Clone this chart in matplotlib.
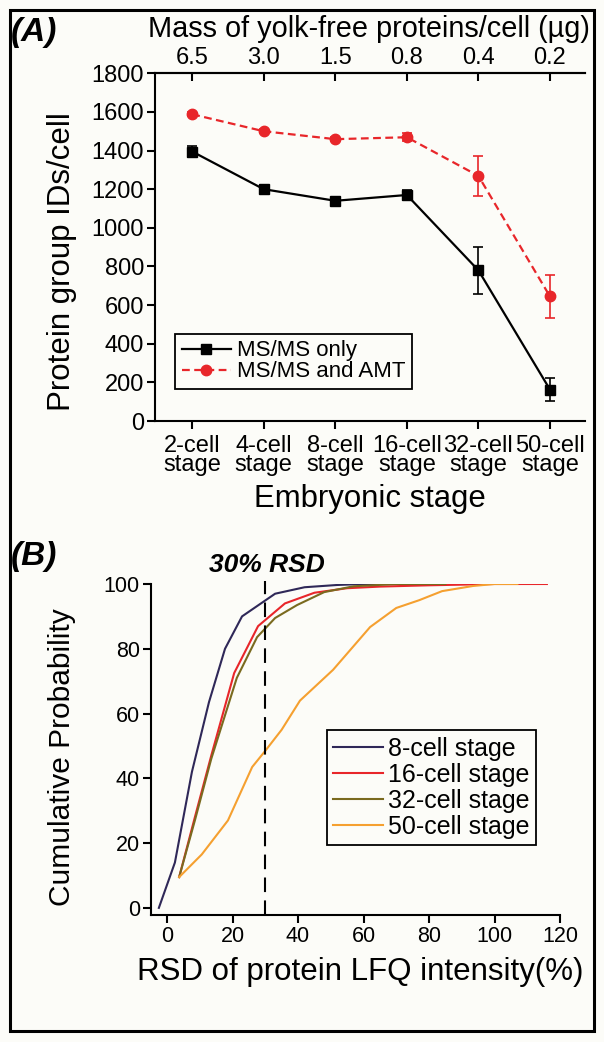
import matplotlib
matplotlib.use("Agg")
import matplotlib.pyplot as plt
from matplotlib.patches import Rectangle
from matplotlib.lines import Line2D

plt.rcParams['font.family'] = ['Liberation Sans', 'DejaVu Sans']

# ---- panel A data ----
stages = ["2-cell\nstage", "4-cell\nstage", "8-cell\nstage",
          "16-cell\nstage", "32-cell\nstage", "50-cell\nstage"]
mass = ["6.5", "3.0", "1.5", "0.8", "0.4", "0.2"]
msms_only = [1395, 1200, 1140, 1170, 780, 163]
msms_only_err = [28, 22, 12, 27, 120, 62]
msms_amt = [1588, 1500, 1459, 1469, 1269, 645]
msms_amt_err = [10, 10, 12, 22, 104, 112]

# ---- panel B data ----
rsd_8 = [-2.5, 2.4, 7.6, 12.8, 17.7, 22.9, 33, 42, 52, 60, 67.5]
cum_8 = [0, 14, 42, 63.5, 80, 90, 97, 99, 99.7, 100, 100]
rsd_16 = [3.7, 8.5, 13.5, 20.5, 27.8, 36, 45, 55, 65, 80, 100, 116]
cum_16 = [9.5, 28, 47, 72.5, 87, 94, 97.3, 98.7, 99.2, 99.6, 100, 100]
rsd_32 = [3.7, 8.5, 13.5, 21.3, 27.5, 33, 39.7, 48, 57, 70, 85]
cum_32 = [9.5, 27, 46, 71, 83.6, 89.5, 93.5, 97.5, 99.3, 100, 100]
rsd_50 = [3.7, 10.6, 18.6, 26, 30, 35, 40.6, 50.7, 62, 70, 77, 84, 93.5, 100, 107]
cum_50 = [9.5, 16.5, 27, 43.5, 48.5, 55, 64, 73.5, 86.7, 92.6, 95, 97.8, 99.4, 100, 100]

bg = "#fcfcf8"
red = "#e8262a"
W, H = 604, 1042

fig = plt.figure(figsize=(W / 100, H / 100), dpi=100, facecolor=bg)

def fx(px):
    return px / W

def fy(py):
    return 1 - py / H

# outer frame
fig.patches.append(Rectangle((fx(10), fy(1031)), fx(594) - fx(10), fy(10) - fy(1031),
                             transform=fig.transFigure, fill=False,
                             edgecolor="black", linewidth=2.2))

# ================= Panel A =================
axA = fig.add_axes([fx(155), fy(421), fx(585) - fx(155), fy(73.3) - fy(421)], facecolor=bg)
x = list(range(len(stages)))
dash_red = (0, (3.5, 2))
axA.errorbar(x, msms_only, yerr=msms_only_err, color="black", linestyle="-",
             linewidth=1.6, marker="s", markersize=6.5, capsize=3.5,
             elinewidth=1.2, capthick=1.2, zorder=3)
axA.errorbar(x, msms_amt, yerr=msms_amt_err, color=red, linestyle=dash_red,
             linewidth=1.6, marker="o", markersize=7.5, capsize=3.5,
             elinewidth=1.2, capthick=1.2, zorder=3)
axA.set_xlim(-0.52, 5.49)
axA.set_ylim(0, 1800)
axA.set_yticks(range(0, 1801, 200))
axA.set_xticks(x)
axA.set_xticklabels(stages, fontsize=14.5, linespacing=0.85)
axA.spines["right"].set_visible(False)
for s in ["left", "bottom", "top"]:
    axA.spines[s].set_linewidth(1.5)
axA.tick_params(direction="out", length=6, width=1.5, labelsize=17, pad=2)
axA.tick_params(axis="x", pad=4)
secA = axA.secondary_xaxis("top")
secA.set_xticks(x)
secA.set_xticklabels(mass, fontsize=17)
secA.tick_params(direction="in", length=6, width=1.5, pad=3)
secA.spines["top"].set_linewidth(1.5)

handlesA = [Line2D([], [], color="black", linewidth=1.6, marker="s", markersize=6.5),
            Line2D([], [], color=red, linewidth=1.6, linestyle=dash_red,
                   marker="o", markersize=7.5)]
legA = axA.legend(handlesA, ["MS/MS only", "MS/MS and AMT"],
                  loc="lower left", bbox_to_anchor=(0.0465, 0.092), borderaxespad=0,
                  fontsize=16, frameon=True, fancybox=False, edgecolor="black",
                  facecolor=bg, framealpha=1, handlelength=2.2, handletextpad=0.3,
                  labelspacing=0.0, borderpad=0.3)
legA.get_frame().set_linewidth(1.3)

fig.text(fx(369), fy(29), "Mass of yolk-free proteins/cell (\u00b5g)", fontsize=20.8,
         ha="center", va="center")
fig.text(fx(62), fy(262), "Protein group IDs/cell", fontsize=22.5, rotation=90,
         ha="center", va="center")
fig.text(fx(370), fy(499), "Embryonic stage", fontsize=22.4, ha="center", va="center")
fig.text(fx(11), fy(32), "(A)", fontsize=24, fontweight="bold", fontstyle="italic",
         ha="left", va="center")

# ================= Panel B =================
axB = fig.add_axes([fx(151), fy(915), fx(560) - fx(151), fy(584) - fy(915)], facecolor=bg)
axB.plot(rsd_8, cum_8, color="#2f2858", linewidth=1.5, label="8-cell stage")
axB.plot(rsd_16, cum_16, color=red, linewidth=1.5, label="16-cell stage")
axB.plot(rsd_32, cum_32, color="#7a6a1f", linewidth=1.5, label="32-cell stage")
axB.plot(rsd_50, cum_50, color="#f5a030", linewidth=1.5, label="50-cell stage")
axB.axvline(30, ymin=0, ymax=1.01, color="black", linewidth=1.5,
            linestyle=(0, (7, 4)), clip_on=False)
axB.set_xlim(-4.9, 120)
axB.set_ylim(-2.2, 100)
axB.set_xticks(range(0, 121, 20))
axB.set_yticks(range(0, 101, 20))
axB.spines["right"].set_visible(False)
axB.spines["top"].set_visible(False)
for s in ["left", "bottom"]:
    axB.spines[s].set_linewidth(1.5)
axB.tick_params(direction="out", length=6, width=1.5, labelsize=15.5, pad=2)

legB = axB.legend(loc="lower left", bbox_to_anchor=(0.430, 0.2115), borderaxespad=0,
                  fontsize=18, frameon=True, fancybox=False, edgecolor="black",
                  facecolor=bg, framealpha=1, handlelength=2.0, handletextpad=0.2,
                  labelspacing=0.08, borderpad=0.25)
legB.get_frame().set_linewidth(1.3)

fig.text(fx(267), fy(565), "30% RSD", fontsize=19, fontweight="bold",
         fontstyle="italic", ha="center", va="center")
fig.text(fx(11), fy(557), "(B)", fontsize=24, fontweight="bold", fontstyle="italic",
         ha="left", va="center")
fig.text(fx(62), fy(757), "Cumulative Probability", fontsize=21.5, rotation=90,
         ha="center", va="center")
fig.text(fx(360), fy(972), "RSD of protein LFQ intensity(%)", fontsize=22.5,
         ha="center", va="center")

fig.savefig("out.png", dpi=100, facecolor=bg)
